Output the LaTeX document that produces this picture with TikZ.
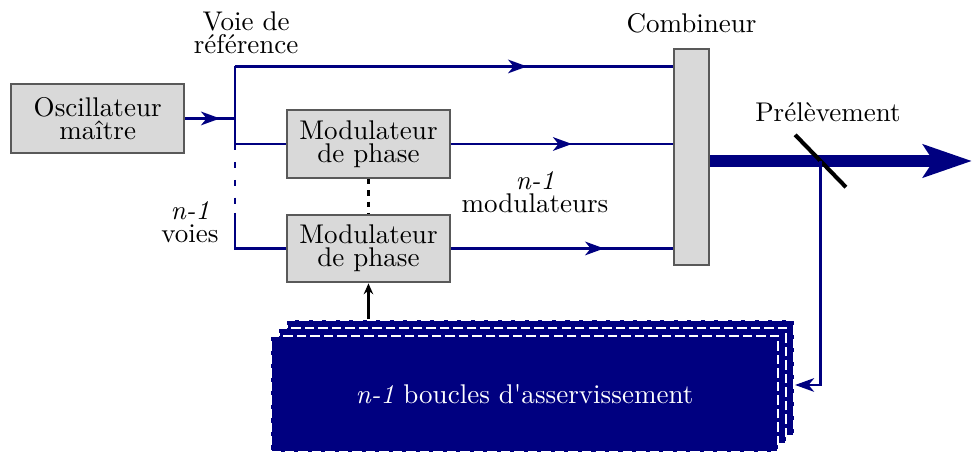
\documentclass[tikz,border=0pt]{standalone}
\usepackage{tikz}
\usetikzlibrary{positioning,arrows.meta,decorations.markings,calc}

\definecolor{navy}{RGB}{0,0,128}

\begin{document}
\begin{tikzpicture}[
      font=\linespread{0.72}\selectfont,
      box/.style={draw=black!65, thick, fill=black!15, align=center, inner sep=0pt},
      module/.style={box, minimum width=2.12cm, minimum height=0.88cm},
      loop/.style={fill=navy, draw=white, thick, dash pattern=on 3.5pt off 1.5pt,
                   minimum width=6.59cm, minimum height=1.51cm, inner sep=0pt},
      lbl/.style={align=center},
      link/.style={navy, line width=1.1pt},
      mid/.style={link, postaction={decorate}, decoration={markings,
                  mark=at position #1 with {\arrow{Stealth[length=7pt,width=5pt,inset=2pt]}}}},
      ctrl/.style={thick, -{Stealth[length=4pt,width=3.5pt]}},
    ]
    \useasboundingbox (0,0) rectangle (12.636,-5.876);
    \node[box, minimum width=2.25cm, minimum height=0.9cm] (osc) at (1.27,-1.54) {Oscillateur\\maître};
    \node[module] (mod1) at (4.79,-1.872) {Modulateur\\de phase};
    \node[module, below=0.45cm of mod1] (mod2) {Modulateur\\de phase};
    \node[box, minimum width=0.455cm, minimum height=2.81cm] (comb) at (8.99,-2.04) {};
    \node[above=0.06cm of comb] (combl) {Combineur};
    \node[lbl] (voie) at (3.2,-0.43) {Voie de\\référence};
    \node[lbl] (voies) at (2.47,-2.886) {\textit{n-1}\\voies};
    \node[lbl] (nmod) at (6.955,-2.496) {\textit{n-1}\\modulateurs};
    % boucles
    \node[loop] (loop3) at (7.027,-4.914) {};
    \node[loop] (loop2) at ($(loop3)+(-0.104,-0.104)$) {};
    \node[loop, text=white] (loop1) at ($(loop2)+(-0.104,-0.104)$) {\textit{n-1} boucles d\textquotesingle asservissement};
    % voies
    \coordinate (top) at (3.055,-0.864);
    \draw[mid=0.7] (osc.east) -- (osc.east -| top);
    \draw[link] (top) -- (3.055,-1.95);
    \draw[link, dash pattern=on 2.2pt off 4.4pt] (3.055,-2.106) -- (3.055,-2.66);
    \draw[link] (3.055,-2.769) |- (mod2);
    \draw[link] (top |- mod1) -- (mod1);
    \draw[mid=0.667] (top) -- (top -| comb.west);
    \draw[mid=0.545] (mod1) -- (mod1 -| comb.west);
    \draw[mid=0.69] (mod2) -- (mod2 -| comb.west);
    \draw[thick, dash pattern=on 2pt off 2.2pt] (mod1.south) -- (mod2.north);
    \draw[ctrl] (loop3.north -| mod2) -- (mod2);
    % sortie
    \coordinate (prel) at (10.667,-2.093);
    \coordinate (fin) at (12.636,-2.093);
    \coordinate (fb) at (10.667,-5.005);
    \draw[navy, line width=4.4pt, -{Stealth[length=6.3mm,width=4.2mm,inset=1.3mm]}] (comb.east |- prel) -- (fin);
    \draw[line width=1.5pt] ($(prel)+(-0.33,0.34)$) -- ($(prel)+(0.33,-0.34)$);
    \node[anchor=base] (prell) at (10.764,-1.586) {Prélèvement};
    \draw[link, -{Stealth[length=7pt,width=5pt,inset=2pt]}] (prel) -- (fb) -- (fb -| loop3.east);
  \end{tikzpicture}
\end{document}
